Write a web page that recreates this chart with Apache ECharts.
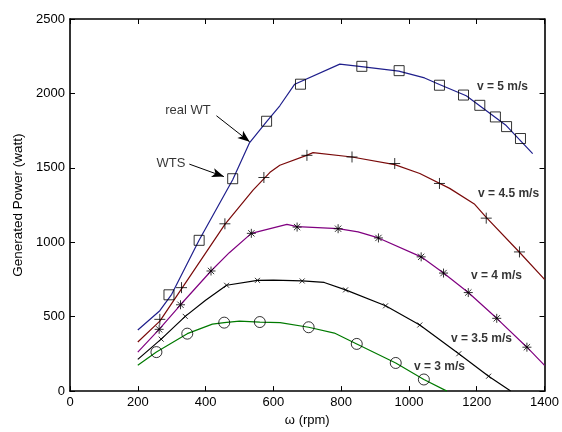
<!DOCTYPE html>
<html>
<head>
<meta charset="utf-8">
<script src="https://cdn.jsdelivr.net/npm/echarts@6/dist/echarts.min.js"></script>
<style>
  html, body { margin: 0; padding: 0; background: #fff; }
  #chart { width: 562px; height: 432px; }
</style>
</head>
<body>
<div id="chart"></div>
<script>
// real WT curves (solid lines), [rpm, watt]
const lineV5 = [[200, 410], [265, 540], [300, 650], [380, 1010], [480, 1420], [530, 1670], [580, 1810], [619, 1917], [663, 2062], [796, 2197], [860, 2180], [970, 2150], [1046, 2104], [1090, 2060], [1169, 1984], [1287, 1784], [1365, 1595]]
const lineV45 = [[200, 330], [265, 470], [330, 690], [457, 1120], [540, 1350], [590, 1470], [619, 1517], [698, 1584], [717, 1602], [832, 1573], [958, 1522], [1032, 1462], [1120, 1362], [1194, 1255], [1228, 1167], [1326, 933], [1400, 751]]
const lineV4 = [[200, 262], [263, 415], [326, 580], [416, 807], [470, 930], [535, 1060], [640, 1120], [670, 1105], [791, 1091], [850, 1070], [910, 1029], [1036, 902], [1102, 793], [1175, 662], [1259, 489], [1348, 295], [1400, 173]]
const lineV35 = [[200, 213], [269, 349], [340, 502], [400, 610], [462, 711], [553, 744], [600, 745], [685, 740], [750, 730], [813, 680], [931, 573], [1032, 444], [1147, 251], [1235, 100], [1300, 0]]
const lineV3 = [[200, 173], [255, 262], [346, 386], [420, 450], [455, 460], [500, 470], [560, 464], [620, 460], [704, 429], [780, 390], [846, 317], [961, 189], [1044, 78], [1112, 0]]

// WTS measured points (markers)
const wtsV5 = [[292, 647], [381, 1013], [480, 1427], [580, 1813], [680, 2062], [861, 2182], [971, 2153], [1090, 2055], [1161, 1989], [1209, 1920], [1255, 1842], [1288, 1777], [1329, 1697]]
const wtsV45 = [[265, 482], [329, 695], [457, 1124], [572, 1435], [699, 1584], [832, 1573], [958, 1529], [1090, 1395], [1228, 1162], [1326, 935]]
const wtsV4 = [[263, 415], [326, 580], [416, 807], [535, 1060], [670, 1102], [791, 1091], [910, 1029], [1036, 902], [1102, 793], [1175, 662], [1259, 489], [1348, 295]]
const wtsV35 = [[269, 349], [340, 502], [462, 711], [553, 744], [685, 740], [813, 680], [931, 573], [1032, 444], [1147, 251], [1235, 100]]
const wtsV3 = [[255, 262], [346, 386], [455, 460], [560, 464], [704, 429], [846, 317], [961, 189], [1044, 78]]

// curve labels
const speedLabels = [
  { name: 'v = 5 m/s', value: [1276, 2042] },
  { name: 'v = 4.5 m/s', value: [1294, 1329] },
  { name: 'v = 4 m/s', value: [1258, 777] },
  { name: 'v = 3.5 m/s', value: [1214, 355] },
  { name: 'v = 3 m/s', value: [1090, 162] }
]
const noteLabels = [
  { name: 'real WT', value: [348, 1889] },
  { name: 'WTS', value: [298, 1529] }
]
const arrows = [
  [[432, 1850], [530, 1675]],
  [[352, 1525], [454, 1441]]
]

const FONT = 'Liberation Sans, Arial, sans-serif'
const PLUS = 'path://M5,0L5,10M0,5L10,5'
const CROSS = 'path://M0,0L10,10M10,0L0,10'
const STAR = 'path://M5,0L5,10M0,5L10,5M1.5,1.5L8.5,8.5M8.5,1.5L1.5,8.5'

function curve (data, color) {
  return {
    type: 'line',
    data: data,
    symbol: 'none',
    lineStyle: { color: color, width: 1.2 },
    z: 2,
    silent: true
  }
}

function markers (data, symbol, size) {
  return {
    type: 'scatter',
    data: data,
    symbol: symbol,
    symbolSize: size,
    itemStyle: { color: 'rgba(0,0,0,0)', borderColor: '#000', borderWidth: 1 },
    z: 3,
    silent: true
  }
}

const chart = echarts.init(document.getElementById('chart'))

const axisCommon = {
  axisLine: { show: true, onZero: false, lineStyle: { color: '#000', width: 1.6 } },
  axisTick: { inside: true, length: 5, lineStyle: { color: '#000', width: 1 } },
  splitLine: { show: false }
}
const tickText = { color: '#000', fontSize: 13, fontFamily: FONT, formatter: v => String(v) }

chart.setOption({
  animation: false,
  backgroundColor: '#fff',
  grid: { left: 70, right: 17, top: 19, bottom: 38 },
  xAxis: [
    Object.assign({
      type: 'value', min: 0, max: 1400, interval: 200, position: 'bottom',
      name: 'ω (rpm)', nameLocation: 'middle', nameGap: 22,
      nameTextStyle: { color: '#000', fontSize: 13, fontFamily: FONT },
      axisLabel: Object.assign({ margin: 5 }, tickText)
    }, axisCommon),
    Object.assign({
      type: 'value', min: 0, max: 1400, interval: 200, position: 'top',
      axisLabel: { show: false }
    }, axisCommon)
  ],
  yAxis: [
    Object.assign({
      type: 'value', min: 0, max: 2500, interval: 500, position: 'left',
      name: 'Generated Power (watt)', nameLocation: 'middle', nameGap: 43,
      nameTextStyle: { color: '#000', fontSize: 13.5, fontFamily: FONT },
      axisLabel: Object.assign({ margin: 5 }, tickText)
    }, axisCommon),
    Object.assign({
      type: 'value', min: 0, max: 2500, interval: 500, position: 'right',
      axisLabel: { show: false }
    }, axisCommon)
  ],
  series: [
    curve(lineV5, '#1f1f8c'),
    curve(lineV45, '#7a0a0a'),
    curve(lineV4, '#800080'),
    curve(lineV35, '#000000'),
    curve(lineV3, '#007a00'),
    markers(wtsV5, 'rect', 10),
    markers(wtsV45, PLUS, 11),
    markers(wtsV4, STAR, 9),
    markers(wtsV35, CROSS, 5),
    markers(wtsV3, 'circle', 11),
    {
      type: 'scatter',
      data: speedLabels,
      symbolSize: 0,
      silent: true,
      label: {
        show: true, position: 'inside', formatter: '{b}',
        color: '#000', fontSize: 12, fontWeight: 'bold', fontFamily: FONT
      },
      markLine: {
        silent: true,
        symbol: ['none', 'arrow'],
        symbolSize: [7, 12],
        lineStyle: { color: '#000', width: 1, type: 'solid' },
        label: { show: false },
        data: arrows.map(a => [{ coord: a[0] }, { coord: a[1] }])
      }
    },
    {
      type: 'scatter',
      data: noteLabels,
      symbolSize: 0,
      silent: true,
      label: {
        show: true, position: 'inside', formatter: '{b}',
        color: '#000', fontSize: 13, fontFamily: FONT
      }
    }
  ]
})
</script>
</body>
</html>
